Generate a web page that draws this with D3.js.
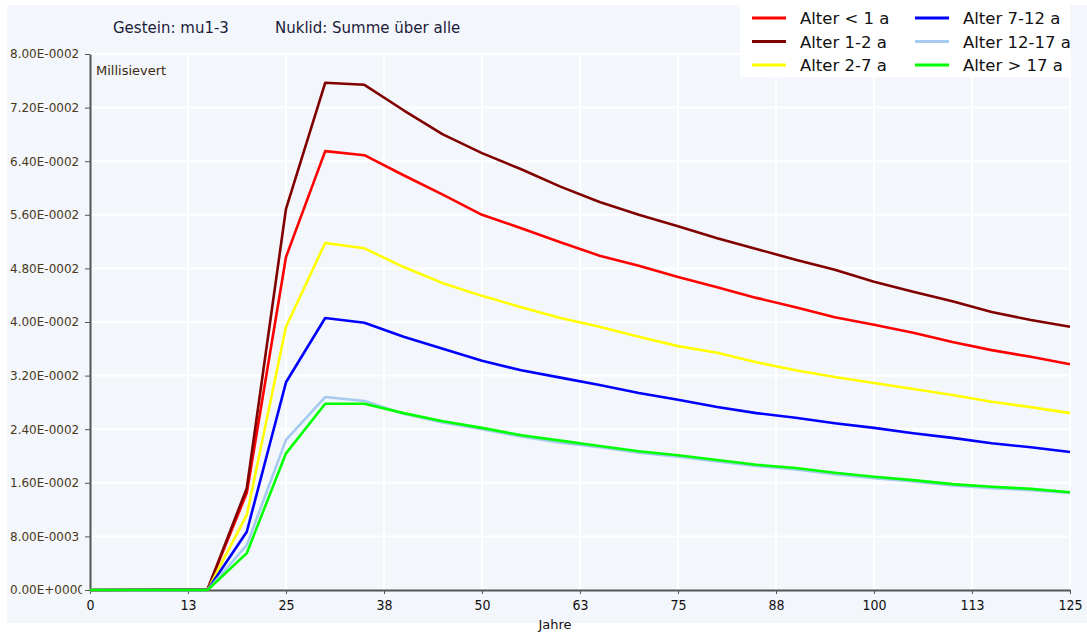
<!DOCTYPE html>
<html>
<head>
<meta charset="utf-8">
<script src="https://cdn.jsdelivr.net/npm/d3@7"></script>
<style>
  body { margin: 0; background: #fff; }
  svg { display: block; }
</style>
</head>
<body>
<div id="chart"></div>
<script>
// Werte (Millisievert)
var years = [0, 12.5, 15, 20, 25, 30, 35, 40, 45, 50, 55, 60, 65, 70, 75, 80, 85, 90, 95, 100, 105, 110, 115, 120, 125];

var alterUnter1 = [0, 0.0001, 0.0001, 0.0145, 0.0497, 0.0655, 0.0649, 0.0619, 0.0590, 0.0560, 0.0540, 0.0519, 0.0499, 0.0484, 0.0467, 0.0452, 0.0436, 0.0422, 0.0407, 0.0396, 0.0384, 0.0370, 0.0358, 0.0348, 0.0337];
var alter1bis2 = [0, 0.0001, 0.0001, 0.0152, 0.0569, 0.0757, 0.0754, 0.0716, 0.0680, 0.0652, 0.0628, 0.0602, 0.0579, 0.0560, 0.0543, 0.0525, 0.0509, 0.0493, 0.0478, 0.0460, 0.0445, 0.0431, 0.0415, 0.0403, 0.0393];
var alter2bis7 = [0, 0, 0, 0.0112, 0.0393, 0.0518, 0.0510, 0.0482, 0.0458, 0.0439, 0.0422, 0.0406, 0.0393, 0.0378, 0.0364, 0.0354, 0.0340, 0.0328, 0.0318, 0.0309, 0.0300, 0.0291, 0.0281, 0.0273, 0.0264];
var alter7bis12 = [0, 0, 0, 0.0087, 0.0310, 0.0406, 0.0399, 0.0378, 0.0360, 0.0342, 0.0328, 0.0317, 0.0306, 0.0294, 0.0284, 0.0273, 0.0264, 0.0257, 0.0249, 0.0242, 0.0234, 0.0227, 0.0219, 0.0213, 0.0206];
var alter12bis17 = [0, 0, 0, 0.0067, 0.0224, 0.0288, 0.0282, 0.0263, 0.0250, 0.0240, 0.0229, 0.0220, 0.0213, 0.0205, 0.0199, 0.0192, 0.0185, 0.0180, 0.0173, 0.0167, 0.0162, 0.0156, 0.0152, 0.0149, 0.0145];
var alterUeber17 = [0, 0, 0, 0.0055, 0.0204, 0.0278, 0.0278, 0.0264, 0.0252, 0.0242, 0.0231, 0.0223, 0.0215, 0.0207, 0.0201, 0.0194, 0.0187, 0.0182, 0.0175, 0.0169, 0.0164, 0.0158, 0.0154, 0.0151, 0.0146];

var seriesNames = ["Alter < 1 a", "Alter 1-2 a", "Alter 2-7 a", "Alter 7-12 a", "Alter 12-17 a", "Alter > 17 a"];
var seriesColors = ["#ff0000", "#800000", "#ffff00", "#0000ff", "#a6caf0", "#00ff00"];
var seriesValues = [alterUnter1, alter1bis2, alter2bis7, alter7bis12, alter12bis17, alterUeber17];

var xTicks = [0, 12.5, 25, 37.5, 50, 62.5, 75, 87.5, 100, 112.5, 125];
var xTickLabels = ["0", "13", "25", "38", "50", "63", "75", "88", "100", "113", "125"];
var yTicks = [0, 0.008, 0.016, 0.024, 0.032, 0.040, 0.048, 0.056, 0.064, 0.072, 0.080];
var yTickLabels = ["0.00E+0000", "8.00E-0003", "1.60E-0002", "2.40E-0002", "3.20E-0002", "4.00E-0002",
                   "4.80E-0002", "5.60E-0002", "6.40E-0002", "7.20E-0002", "8.00E-0002"];

var width = 1087, height = 633;
var plot = { left: 90, right: 1070, top: 54, bottom: 590 };

var svg = d3.select("#chart").append("svg")
    .attr("width", width)
    .attr("height", height);

// Hintergrund
svg.append("rect").attr("width", width).attr("height", height).attr("fill", "#ffffff");
svg.append("rect")
    .attr("x", 7).attr("y", 5)
    .attr("width", width - 7).attr("height", 618)
    .attr("fill", "#f3f6fb");

var x = d3.scaleLinear().domain([0, 125]).range([plot.left, plot.right]);
var y = d3.scaleLinear().domain([0, 0.08]).range([plot.bottom, plot.top]);

// Gitter
svg.append("g").selectAll("line")
    .data(xTicks.slice(1))
    .enter().append("line")
    .attr("x1", d => x(d)).attr("x2", d => x(d))
    .attr("y1", plot.top).attr("y2", plot.bottom)
    .attr("stroke", "#ffffff").attr("stroke-width", 2);
svg.append("g").selectAll("line")
    .data(yTicks.slice(1))
    .enter().append("line")
    .attr("x1", plot.left).attr("x2", plot.right)
    .attr("y1", d => y(d)).attr("y2", d => y(d))
    .attr("stroke", "#ffffff").attr("stroke-width", 2);

// x-Achse
var xAxis = svg.append("g")
    .attr("transform", `translate(0,${plot.bottom})`)
    .call(d3.axisBottom(x).tickValues(xTicks).tickSize(4).tickSizeOuter(0)
        .tickFormat((d, i) => xTickLabels[i]));
xAxis.select(".domain").attr("stroke", "#555").attr("stroke-width", 2);
xAxis.selectAll(".tick line").attr("stroke", "#555");
xAxis.selectAll(".tick text")
    .attr("font-family", "'Liberation Sans Narrow', 'DejaVu Sans Condensed', sans-serif")
    .attr("font-size", 14).attr("fill", "#111").attr("dy", "0.95em");

// y-Achse: Beschriftung linksbuendig, rechts abgeschnitten wie im Original
svg.append("clipPath").attr("id", "yclip")
    .append("rect").attr("x", -plot.left).attr("y", -20).attr("width", plot.left - 8).attr("height", 40);

var yAxis = svg.append("g")
    .attr("transform", `translate(${plot.left},0)`)
    .call(d3.axisLeft(y).tickValues(yTicks).tickSize(5).tickSizeOuter(0)
        .tickFormat((d, i) => yTickLabels[i]));
yAxis.select(".domain").attr("stroke", "#555").attr("stroke-width", 2);
yAxis.selectAll(".tick line").attr("stroke", "#555");
yAxis.selectAll(".tick text")
    .attr("font-family", "'DejaVu Sans', sans-serif")
    .attr("font-size", 12).attr("fill", "#4a3a1c")
    .attr("text-anchor", "start")
    .attr("x", 10 - plot.left)
    .attr("clip-path", "url(#yclip)");

// Linien
var line = d3.line()
    .x((d, i) => x(years[i]))
    .y(d => y(d));

svg.append("g").selectAll("path")
    .data(seriesValues)
    .enter().append("path")
    .attr("d", d => line(d))
    .attr("fill", "none")
    .attr("stroke", (d, i) => seriesColors[i])
    .attr("stroke-width", 2.6)
    .attr("stroke-linejoin", "round");

// Texte
svg.append("text").attr("x", 113).attr("y", 33)
    .attr("font-family", "'DejaVu Sans', sans-serif").attr("font-size", 15).attr("fill", "#1c1c3a")
    .text("Gestein: mu1-3");
svg.append("text").attr("x", 275).attr("y", 33)
    .attr("font-family", "'DejaVu Sans', sans-serif").attr("font-size", 15).attr("fill", "#1c1c3a")
    .text("Nuklid: Summe über alle");
svg.append("text").attr("x", 96).attr("y", 75)
    .attr("font-family", "'DejaVu Sans', sans-serif").attr("font-size", 13).attr("fill", "#3a2a10")
    .text("Millisievert");
svg.append("text").attr("x", 555).attr("y", 629).attr("text-anchor", "middle")
    .attr("font-family", "'DejaVu Sans', sans-serif").attr("font-size", 13).attr("fill", "#111")
    .text("Jahre");

// Legende
svg.append("rect").attr("x", 740).attr("y", 0).attr("width", 330).attr("height", 77).attr("fill", "#ffffff");
var legend = svg.append("g").selectAll("g")
    .data(seriesNames)
    .enter().append("g")
    .attr("transform", (d, i) => `translate(${i < 3 ? 752 : 915},${18 + (i % 3) * 23.5})`);
legend.append("line")
    .attr("x1", 0).attr("x2", 34).attr("y1", 0).attr("y2", 0)
    .attr("stroke", (d, i) => seriesColors[i]).attr("stroke-width", 3);
legend.append("text")
    .attr("x", 48).attr("y", 6)
    .attr("font-family", "'DejaVu Sans', sans-serif").attr("font-size", 16.5).attr("fill", "#111")
    .text(d => d);
</script>
</body>
</html>
